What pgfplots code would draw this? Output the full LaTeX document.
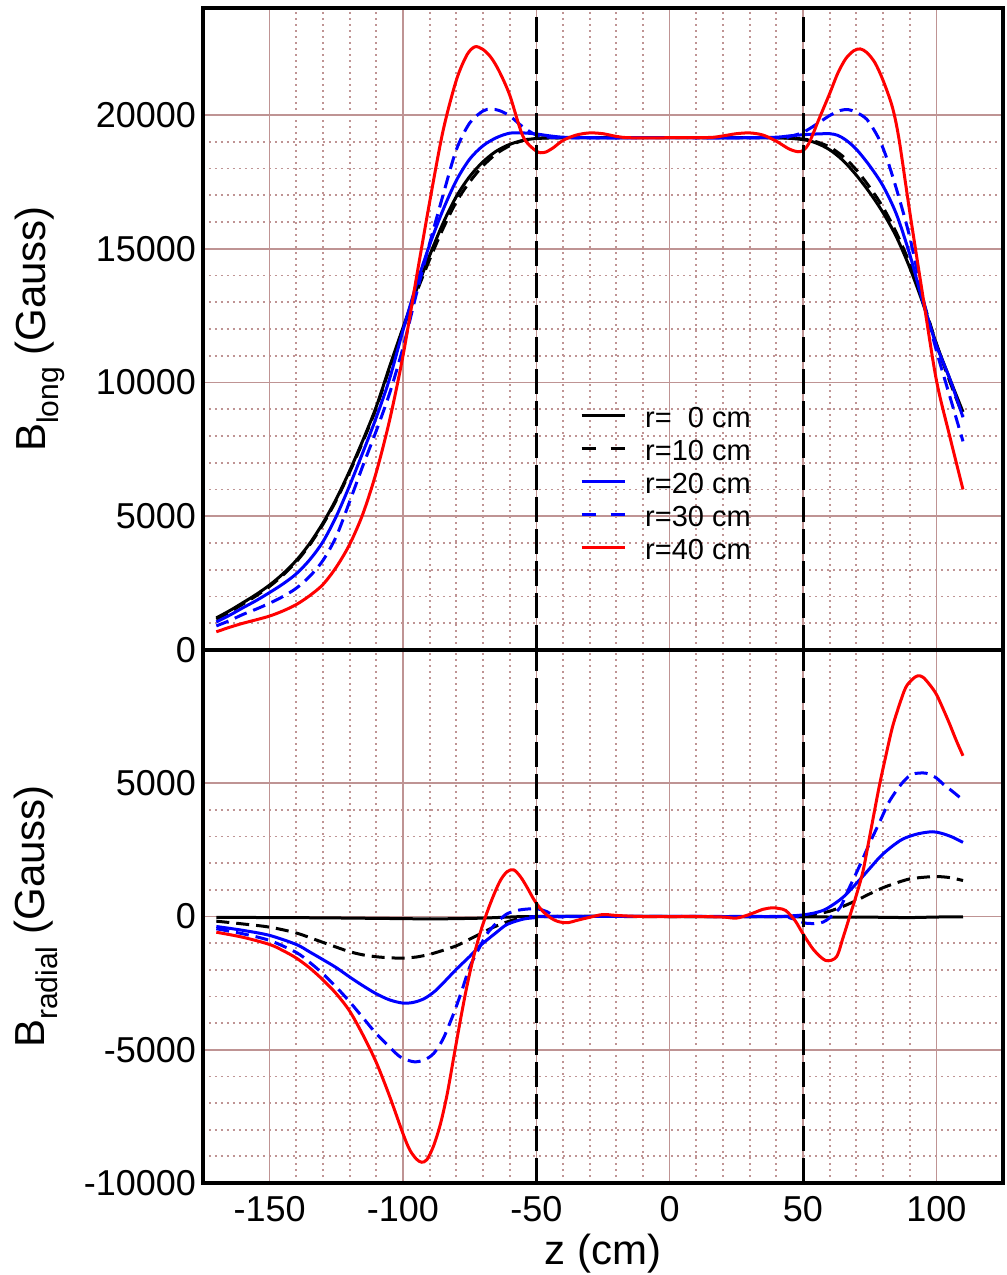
\documentclass[border=0pt]{standalone}
\usepackage{fontspec}
\setmainfont{Liberation Sans}
\usepackage{pgfplots}
\pgfplotsset{compat=1.18}
\definecolor{gridc}{HTML}{BF9494}
\pgfplotsset{frm/.style={scale only axis, width=400pt, xmin=-175, xmax=125,
  axis line style={black,line width=1.7pt}, major tick length=0pt, minor tick length=0pt,
  xtick={-150,-100,-50,0,50,100}, minor x tick num=4, minor y tick num=4,
  grid=both, major grid style={gridc,line width=0.8pt}, minor grid style={gridc,line width=0.9pt,dash pattern=on 0.9pt off 2.1pt},
  scaled ticks=false, /pgf/number format/1000 sep={}, /pgf/number format/assume math mode=true,
  tick label style={font=\fontsize{18}{20}\selectfont}, xticklabel style={yshift=-3pt},
  every axis y label/.style={at={(axis description cs:-0.204,0.5)}, rotate=90, anchor=center, font=\fontsize{21}{24}\selectfont}},
  c0/.style={black,line width=1.5pt,smooth},
  c10/.style={black,line width=1.5pt,smooth,dash pattern=on 6.5pt off 3.5pt},
  c20/.style={blue,line width=1.5pt,smooth},
  c30/.style={blue,line width=1.5pt,smooth,dash pattern=on 6.5pt off 3.5pt},
  c40/.style={red,line width=1.5pt,smooth},
  vl/.style={black,line width=1.5pt,dash pattern=on 12.5pt off 3.5pt,forget plot}}
\begin{document}
\begin{tikzpicture}
% top: longitudinal field
\begin{axis}[frm, at={(0,266.5pt)}, anchor=south west, height=321pt, ymin=0, ymax=24000,
  ytick={0,5000,10000,15000,20000}, xticklabels={},
  ylabel={B\raisebox{-0.3em}{\fontsize{15}{15}\selectfont long} (Gauss)},
  legend cell align=left,
  legend style={at={(axis description cs:0.471,0.381)}, anchor=north west, draw=none, fill=none,
    inner sep=0pt, column sep=9.5pt, font=\fontsize{14.5}{16}\selectfont,
    nodes={inner xsep=0pt, inner ysep=0pt, text height=11pt, text depth=5.5pt}},
  legend image code/.code={\draw[#1] (0pt,3.6pt) -- (21.5pt,3.6pt);}]
\addplot[c0] coordinates {(-170,1200) (-165,1470) (-160,1770) (-155,2080) (-150,2430) (-145,2850) (-140,3350) (-135,3980) (-130,4750) (-125,5650) (-120,6700) (-115,7850) (-110,9100) (-105,10600) (-100,12050) (-95,13450) (-90,14750) (-85,15950) (-80,16950) (-75,17700) (-70,18250) (-65,18650) (-60,18900) (-55,19050) (-50,19120) (-40,19150) (-20,19150) (0,19150) (20,19150) (40,19150) (50,19080) (55,18950) (60,18700) (65,18300) (70,17750) (75,17100) (80,16350) (85,15450) (90,14300) (95,12950) (100,11450) (105,10150) (110,8900)};
\addlegendentry{r=\phantom{1}0 cm}
\addplot[c10, legend image post style={dash pattern=on 7pt off 7.5pt}] coordinates {(-170,1150) (-165,1420) (-160,1720) (-155,2030) (-150,2380) (-145,2800) (-140,3300) (-135,3930) (-130,4700) (-125,5600) (-120,6650) (-115,7800) (-110,9050) (-105,10550) (-100,12000) (-95,13350) (-90,14600) (-85,15750) (-80,16750) (-75,17500) (-70,18100) (-65,18550) (-60,18850) (-55,19050) (-50,19130) (-40,19150) (0,19150) (40,19150) (50,19100) (55,19000) (60,18800) (65,18450) (70,17950) (75,17300) (80,16550) (85,15600) (90,14450) (95,13050) (100,11450) (105,10050) (110,8750)};
\addlegendentry{r=10 cm}
\addplot[c20] coordinates {(-170,1050) (-165,1300) (-160,1580) (-155,1850) (-150,2150) (-145,2470) (-140,2850) (-135,3370) (-130,4050) (-125,5000) (-120,6150) (-115,7400) (-110,8700) (-105,10150) (-100,11950) (-95,13650) (-90,15150) (-85,16450) (-80,17550) (-75,18350) (-70,18850) (-65,19150) (-60,19320) (-55,19330) (-50,19290) (-45,19220) (-40,19170) (-30,19150) (0,19150) (30,19150) (40,19170) (45,19220) (50,19260) (55,19290) (60,19300) (63,19240) (66,19070) (70,18720) (75,18100) (80,17350) (85,16300) (90,14800) (95,13000) (100,11400) (105,10150) (110,8700)};
\addlegendentry{r=20 cm}
\addplot[c30, legend image post style={dash pattern=on 7pt off 7.5pt}] coordinates {(-170,900) (-165,1100) (-160,1330) (-155,1530) (-150,1750) (-145,2000) (-140,2310) (-135,2750) (-130,3350) (-125,4250) (-120,5550) (-115,6900) (-110,8200) (-105,9600) (-100,11300) (-95,13300) (-90,15200) (-85,17000) (-80,18700) (-75,19700) (-70,20150) (-67,20220) (-64,20170) (-60,19970) (-55,19550) (-50,19250) (-45,19170) (-40,19150) (0,19150) (40,19150) (45,19200) (50,19350) (55,19650) (60,19980) (64,20170) (67,20200) (70,20100) (74,19830) (78,19200) (81,18500) (85,17250) (90,15450) (95,13150) (100,11200) (105,9500) (110,7800)};
\addlegendentry{r=30 cm}
\addplot[c40] coordinates {(-170,680) (-165,850) (-160,1000) (-155,1130) (-150,1270) (-145,1460) (-140,1700) (-135,2030) (-130,2450) (-125,3100) (-120,3950) (-115,5100) (-110,6650) (-105,8600) (-100,11000) (-95,13900) (-90,16750) (-85,19400) (-80,21300) (-76,22250) (-73,22550) (-70,22450) (-67,22150) (-64,21650) (-60,20750) (-55,19200) (-50,18650) (-47,18600) (-44,18750) (-40,19050) (-35,19250) (-30,19330) (-25,19300) (-20,19200) (-15,19150) (0,19150) (15,19160) (20,19220) (25,19300) (30,19330) (35,19250) (40,19020) (45,18720) (49,18630) (52,18900) (56,19850) (60,20800) (63,21550) (66,22100) (69,22400) (71.5,22470) (74,22330) (77,21950) (80,21300) (83.5,20300) (86,19100) (90,16400) (95,13200) (100,10100) (105,8000) (110,6000)};
\addlegendentry{r=40 cm}
\addplot[vl] coordinates {(-50,0) (-50,24000)};
\addplot[vl] coordinates {(50,0) (50,24000)};
\end{axis}
% bottom: radial field
\begin{axis}[frm, at={(0,0)}, anchor=south west, height=266.5pt, ymin=-10000, ymax=10000,
  ytick={-10000,-5000,0,5000},
  every axis y label/.style={at={(axis description cs:-0.209,0.5)}, rotate=90, anchor=center, font=\fontsize{21}{24}\selectfont},
  ylabel={B\raisebox{-0.3em}{\fontsize{15}{15}\selectfont radial} (Gauss)},
  xlabel={z (cm)}, xlabel style={at={(axis description cs:0.5,-0.132)}, anchor=center, font=\fontsize{21}{24}\selectfont}]
\addplot[c0] coordinates {(-170,-30) (-150,-40) (-130,-50) (-110,-70) (-100,-80) (-90,-90) (-80,-80) (-70,-60) (-60,-20) (-50,0) (0,0) (50,-10) (60,-20) (70,-20) (80,-30) (90,-40) (100,-20) (110,-10)};
\addplot[c10] coordinates {(-170,-175) (-160,-280) (-150,-400) (-140,-620) (-132,-900) (-125,-1150) (-120,-1320) (-115,-1440) (-110,-1510) (-105,-1550) (-100,-1560) (-95,-1520) (-90,-1420) (-85,-1270) (-80,-1100) (-76,-900) (-70,-600) (-66,-400) (-60,-170) (-55,-60) (-50,-10) (-40,0) (40,0) (50,20) (55,90) (60,200) (65,380) (70,600) (75,850) (80,1080) (85,1260) (90,1410) (95,1470) (100,1500) (105,1460) (110,1350)};
\addplot[c20] coordinates {(-170,-375) (-160,-520) (-150,-710) (-140,-1050) (-135,-1330) (-130,-1620) (-125,-1920) (-120,-2270) (-115,-2600) (-110,-2900) (-105,-3130) (-100,-3250) (-96,-3220) (-92,-3080) (-88,-2800) (-84,-2400) (-80,-1980) (-75,-1500) (-71,-1090) (-65,-600) (-61,-300) (-55,-100) (-50,-40) (-45,0) (40,0) (45,20) (50,60) (55,150) (59,300) (65,720) (71,1350) (75,1800) (79,2250) (83,2600) (87.5,2910) (93,3100) (98.5,3180) (102,3120) (106,2980) (110,2780)};
\addplot[c30] coordinates {(-170,-460) (-160,-650) (-150,-900) (-140,-1350) (-135,-1720) (-130,-2150) (-125,-2650) (-120,-3200) (-115,-3800) (-110,-4400) (-105,-4900) (-101,-5270) (-96,-5450) (-92,-5380) (-88.5,-5140) (-85,-4600) (-81,-3640) (-78,-2800) (-75,-1900) (-71.5,-1200) (-68.5,-650) (-65,-250) (-61,100) (-56,250) (-50,290) (-46,180) (-43.5,40) (-40,-20) (-35,0) (40,0) (45,-50) (48,-150) (51,-250) (55,-260) (57.5,-210) (60,-50) (64,350) (67,1000) (71,1850) (75,2750) (79,3600) (82,4250) (85,4720) (88,5100) (91,5340) (96,5380) (100,5200) (102.5,4970) (106,4700) (110,4370)};
\addplot[c40] coordinates {(-170,-590) (-160,-780) (-150,-1050) (-145,-1280) (-140,-1560) (-135,-1930) (-130,-2380) (-125,-2900) (-120,-3550) (-115,-4450) (-110,-5480) (-105,-6750) (-100,-8150) (-97.5,-8750) (-95,-9100) (-93,-9220) (-91,-9120) (-88.5,-8600) (-86,-7800) (-83.5,-6700) (-81,-5300) (-78.5,-3900) (-76,-2600) (-73.5,-1500) (-71,-600) (-68.5,150) (-66,800) (-63.5,1350) (-61,1680) (-58.5,1750) (-56,1500) (-53.5,1100) (-51,650) (-48.5,300) (-46,50) (-43.5,-120) (-41,-210) (-38,-230) (-35,-150) (-30,-30) (-25,75) (-20,40) (-10,0) (10,0) (20,-20) (25,-60) (30,80) (35,270) (38.5,325) (41,300) (43.5,225) (47,-150) (50,-650) (54,-1250) (58.5,-1650) (62.5,-1520) (65,-800) (67.5,0) (70,800) (72.5,1700) (75,3000) (78.5,4840) (81,6000) (83.5,7090) (86,7900) (88.5,8590) (91,8900) (93,9030) (95,8980) (97.5,8700) (100,8340) (102.5,7800) (105,7220) (107.5,6600) (110,6030)};
\addplot[vl] coordinates {(-50,-10000) (-50,10000)};
\addplot[vl] coordinates {(50,-10000) (50,10000)};
\end{axis}
\pgfresetboundingbox
\path (-101.5pt,-46pt) rectangle (402pt,591.5pt);
\end{tikzpicture}
\end{document}
